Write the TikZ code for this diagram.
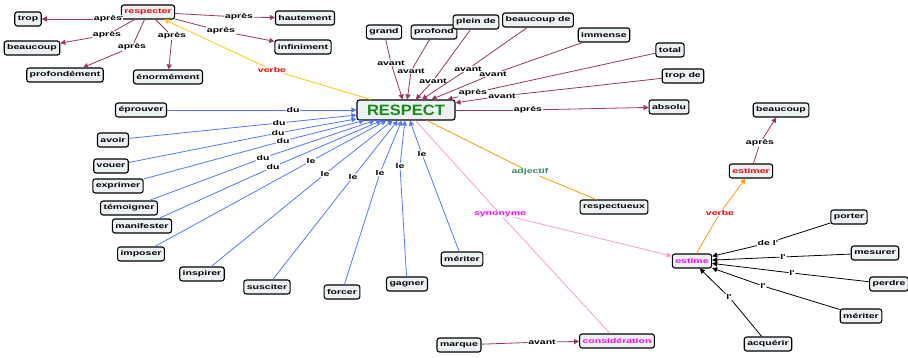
\documentclass[tikz,border=0pt]{standalone}
\usepackage{fontspec}
\setmainfont{Liberation Sans}
\newfontfamily\smallf[FakeStretch=1.5]{Liberation Sans}
\newfontfamily\bigf[FakeStretch=1.1]{Liberation Sans}
\usetikzlibrary{arrows.meta}
\definecolor{boxfill}{RGB}{236,242,244}
\definecolor{maroon}{RGB}{153,51,102}
\definecolor{blueln}{RGB}{80,120,255}
\definecolor{yel}{RGB}{255,200,0}
\definecolor{orng}{RGB}{255,153,0}
\definecolor{pinkln}{RGB}{255,153,204}
\definecolor{grn}{RGB}{20,140,20}
\definecolor{adjg}{RGB}{46,139,87}
\definecolor{mag}{RGB}{255,0,255}
\tikzset{
  cnode/.style={draw=black, line width=1.1pt, rounded corners=2.5pt, fill=boxfill,
    font=\smallf\bfseries\fontsize{7}{8}\selectfont, inner xsep=3pt, inner ysep=1.5pt,
    minimum height=14pt},
  lab/.style={fill=white, inner sep=0.6pt, font=\smallf\bfseries\fontsize{7}{8}\selectfont},
  arr/.style={-{Triangle[length=5pt,width=5pt]}},
  mar/.style={draw=maroon, line width=0.8pt},
  blu/.style={draw=blueln, line width=0.8pt},
  blk/.style={draw=black, line width=0.8pt},
}
\begin{document}
\begin{tikzpicture}[x=1pt,y=-1pt]
\useasboundingbox (0,0) rectangle (908,358);
% ---- main concept
\node[cnode, font=\bigf\bfseries\fontsize{15}{16}\selectfont, text=grn, minimum width=98pt, minimum height=20pt, inner ysep=1pt] (respect) at (406,110) {RESPECT};
% ---- respecter group
\node[cnode, text=red] (respecter) at (148,12) {respecter};
\node[cnode] (trop) at (28,19) {trop};
\node[cnode] (beaucoupA) at (32,48) {beaucoup};
\node[cnode] (profondement) at (65,75) {profondément};
\node[cnode] (enormement) at (168,77) {énormément};
\node[cnode] (hautement) at (305,18) {hautement};
\node[cnode] (infiniment) at (303,47) {infiniment};
\node[lab] (l1) at (108,19) {après};
\node[lab] (l2) at (107,35) {après};
\node[lab] (l3) at (132,47) {après};
\node[lab] (l4) at (172,36) {après};
\node[lab] (l5) at (239,17) {après};
\node[lab] (l6) at (221,31) {après};
\node[lab, text=red] (verbeA) at (272,70) {verbe};
\draw[mar] (respecter) -- (l1); \draw[mar,arr] (l1) -- (trop);
\draw[mar] (respecter) -- (l2); \draw[mar,arr] (l2) -- (beaucoupA);
\draw[mar] (respecter) -- (l3); \draw[mar,arr] (l3) -- (profondement);
\draw[mar] (respecter) -- (l4); \draw[mar,arr] (l4) -- (enormement);
\draw[mar] (respecter) -- (l5); \draw[mar,arr] (l5) -- (hautement);
\draw[mar] (respecter) -- (l6); \draw[mar,arr] (l6) -- (infiniment);
\draw[draw=yel, line width=0.8pt] (respect) -- (verbeA);
\draw[draw=yel, line width=0.8pt, arr] (verbeA) -- (respecter);
% ---- adjectives / quantifiers
\node[cnode] (grand) at (384,32) {grand};
\node[cnode] (profond) at (434,32) {profond};
\node[cnode] (pleinde) at (476,22) {plein de};
\node[cnode] (beaucoupde) at (538,20) {beaucoup de};
\node[cnode] (immense) at (604,35) {immense};
\node[cnode] (total) at (670,50) {total};
\node[cnode] (tropde) at (683,76) {trop de};
\node[cnode] (absolu) at (669,107) {absolu};
\node[lab] (a1) at (391,63) {avant};
\node[lab] (a2) at (411,71) {avant};
\node[lab] (a3) at (433,81) {avant};
\node[lab] (a4) at (468,69) {avant};
\node[lab] (a5) at (493,74) {avant};
\node[lab] (a6) at (473,93) {après};
\node[lab] (a7) at (502,96) {avant};
\node[lab] (a8) at (528,110) {après};
\draw[mar] (grand) -- (a1); \draw[mar,arr] (a1) -- (respect);
\draw[mar] (profond) -- (a2); \draw[mar,arr] (a2) -- (respect);
\draw[mar] (pleinde) -- (a3); \draw[mar,arr] (a3) -- (respect);
\draw[mar] (beaucoupde) -- (a4); \draw[mar,arr] (a4) -- (respect);
\draw[mar] (immense) -- (a5); \draw[mar,arr] (a5) -- (respect);
\draw[mar] (total) -- (a6); \draw[mar,arr] (a6) -- (respect);
\draw[mar] (tropde) -- (a7); \draw[mar,arr] (a7) -- (respect);
\draw[mar] (respect) -- (a8); \draw[mar,arr] (a8) -- (absolu);
% ---- verbs
\node[cnode] (eprouver) at (141,110) {éprouver};
\node[cnode] (avoir) at (113,140) {avoir};
\node[cnode] (vouer) at (111,166) {vouer};
\node[cnode] (exprimer) at (118,186) {exprimer};
\node[cnode] (temoigner) at (129,208) {témoigner};
\node[cnode] (manifester) at (142,226) {manifester};
\node[cnode] (imposer) at (141,254) {imposer};
\node[cnode] (inspirer) at (202,274) {inspirer};
\node[cnode] (susciter) at (267,287) {susciter};
\node[cnode] (forcer) at (342,292) {forcer};
\node[cnode] (gagner) at (407,284) {gagner};
\node[cnode] (meriter) at (462,259) {mériter};
\node[lab] (b1) at (293,110) {du};
\node[lab] (b2) at (279,123) {du};
\node[lab] (b3) at (278,133) {du};
\node[lab] (b4) at (283,141) {du};
\node[lab] (b5) at (263,158) {du};
\node[lab] (b6) at (273,167) {du};
\node[lab] (b7) at (311,161) {le};
\node[lab] (b8) at (325,174) {le};
\node[lab] (b9) at (353,177) {le};
\node[lab] (b10) at (380,173) {le};
\node[lab] (b11) at (400,166) {le};
\node[lab] (b12) at (422,154) {le};
\draw[blu] (eprouver) -- (b1); \draw[blu,arr] (b1) -- (respect);
\draw[blu] (avoir) -- (b2); \draw[blu,arr] (b2) -- (respect);
\draw[blu] (vouer) -- (b3); \draw[blu,arr] (b3) -- (respect);
\draw[blu] (exprimer) -- (b4); \draw[blu,arr] (b4) -- (respect);
\draw[blu] (temoigner) -- (b5); \draw[blu,arr] (b5) -- (respect);
\draw[blu] (manifester) -- (b6); \draw[blu,arr] (b6) -- (respect);
\draw[blu] (imposer) -- (b7); \draw[blu,arr] (b7) -- (respect);
\draw[blu] (inspirer) -- (b8); \draw[blu,arr] (b8) -- (respect);
\draw[blu] (susciter) -- (b9); \draw[blu,arr] (b9) -- (respect);
\draw[blu] (forcer) -- (b10); \draw[blu,arr] (b10) -- (respect);
\draw[blu] (gagner) -- (b11); \draw[blu,arr] (b11) -- (respect);
\draw[blu] (meriter) -- (b12); \draw[blu,arr] (b12) -- (respect);
% ---- adjectif / synonyme
\node[cnode] (respectueux) at (614,207) {respectueux};
\node[lab, text=adjg] (adjectif) at (530,172) {adjectif};
\draw[draw=orng, line width=0.8pt] (respect) -- (adjectif);
\draw[draw=orng, line width=0.8pt] (adjectif) -- (respectueux);
\node[cnode, text=mag] (estime) at (692,261) {estime};
\node[cnode, text=mag] (consideration) at (617,341) {considération};
\node[lab, text=mag] (synonyme) at (500,214) {synonyme};
\draw[draw=pinkln, line width=0.8pt] (respect) -- (synonyme);
\draw[draw=pinkln, line width=0.8pt, arr] (synonyme) -- (estime);
\draw[draw=pinkln, line width=0.8pt] (synonyme) -- (consideration);
% ---- marque
\node[cnode] (marque) at (459,345) {marque};
\node[lab] (m1) at (542,342) {avant};
\draw[mar] (marque) -- (m1); \draw[mar,arr] (m1) -- (consideration);
% ---- estime group
\node[cnode, text=red] (estimer) at (751,171) {estimer};
\node[cnode] (beaucoupB) at (781,110) {beaucoup};
\node[lab, text=red] (verbeB) at (720,213) {verbe};
\node[lab] (e1) at (760,143) {après};
\draw[draw=orng, line width=0.8pt] (estime) -- (verbeB);
\draw[draw=orng, line width=0.8pt, arr] (verbeB) -- (estimer);
\draw[mar] (estimer) -- (e1); \draw[mar,arr] (e1) -- (beaucoupB);
\node[cnode] (porter) at (849,217) {porter};
\node[cnode] (mesurer) at (875,253) {mesurer};
\node[cnode] (perdre) at (889,284) {perdre};
\node[cnode] (meriterB) at (861,316) {mériter};
\node[cnode] (acquerir) at (768,344) {acquérir};
\node[lab] (f1) at (768,243) {de l'};
\node[lab] (f2) at (783,257) {l'};
\node[lab] (f3) at (792,273) {l'};
\node[lab] (f4) at (763,286) {l'};
\node[lab] (f5) at (729,297) {l'};
\draw[blk] (porter) -- (f1); \draw[blk,arr] (f1) -- (estime);
\draw[blk] (mesurer) -- (f2); \draw[blk,arr] (f2) -- (estime);
\draw[blk] (perdre) -- (f3); \draw[blk,arr] (f3) -- (estime);
\draw[blk] (meriterB) -- (f4); \draw[blk,arr] (f4) -- (estime);
\draw[blk] (acquerir) -- (f5); \draw[blk,arr] (f5) -- (estime);
\end{tikzpicture}
\end{document}
